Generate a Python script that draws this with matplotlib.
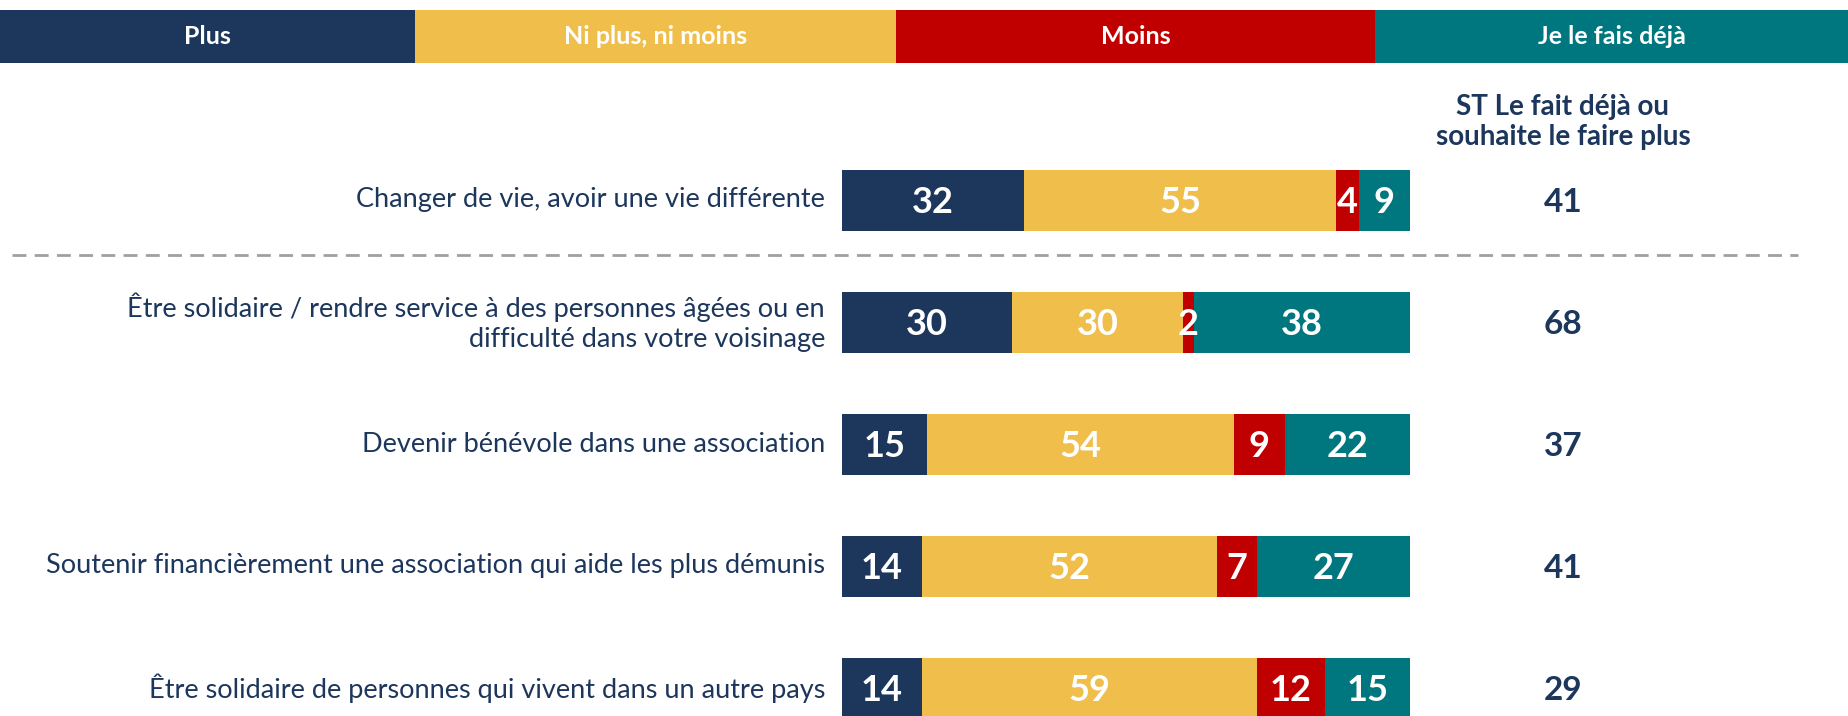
import matplotlib
matplotlib.use("Agg")
from matplotlib import pyplot as plt
import numpy as np

plt.rcParams['font.family'] = ['Lato', 'DejaVu Sans']

header_labels = ["Plus", "Ni plus, ni moins", "Moins", "Je le fais déjà"]
header_edges = [0, 415, 896, 1375, 1849]

items = [
    "Changer de vie, avoir une vie différente",
    "Être solidaire / rendre service à des personnes âgées ou en\ndifficulté dans votre voisinage",
    "Devenir bénévole dans une association",
    "Soutenir financièrement une association qui aide les plus démunis",
    "Être solidaire de personnes qui vivent dans un autre pays",
]
plus = [32, 30, 15, 14, 14]
ni_plus_ni_moins = [55, 30, 54, 52, 59]
moins = [4, 2, 9, 7, 12]
deja = [9, 38, 22, 27, 15]
st_total = [41, 68, 37, 41, 29]

colors = ["#1C365C", "#F0BE4A", "#C00000", "#00767E"]
navy = "#1C365C"

W, H = 1849, 716
fig = plt.figure(figsize=(W / 100, H / 100), dpi=100)

# overlay axes in pixel coordinates
ov = fig.add_axes([0, 0, 1, 1])
ov.set_xlim(0, W)
ov.set_ylim(H, 0)
ov.axis("off")

lefts = np.array(header_edges[:-1])
widths = np.diff(header_edges)
ov.barh(36.5, widths, left=lefts, height=53, color=colors, align="center")
for l, w, lab in zip(lefts, widths, header_labels):
    ov.text(l + w / 2, 37, lab, ha="center", va="center", color="white",
            fontsize=18, fontweight="bold")

ov.plot([12, 1798], [255, 255], ls=(0, (5, 3)), color="#A0A0A0", lw=2)

# bar axes
x0, x1 = 842, 1410
ax = fig.add_axes([x0 / W, 0, (x1 - x0) / W, 1])
row0, step = 200, 122
ax.set_xlim(0, 100)
ax.set_ylim((H - row0) / step, -row0 / step)
ax.axis("off")

y = np.arange(len(items))
data = [plus, ni_plus_ni_moins, moins, deja]
left = np.zeros(len(items))
for vals, c in zip(data, colors):
    vals = np.array(vals)
    ax.barh(y, vals, left=left, height=0.5, color=c, clip_on=False)
    for yi, v, l in zip(y, vals, left):
        ax.text(l + v / 2, yi + 0.02, str(v), ha="center", va="center",
                color="white", fontsize=26, fontweight="bold", clip_on=False)
    left = left + vals

px = 100 / (x1 - x0)
for yi, lab in zip(y, items):
    ax.text(-3.0, yi, lab, ha="right", va="center", color=navy, fontsize=19.5,
            linespacing=1.25, clip_on=False)
for yi, v in zip(y, st_total):
    ax.text((1563 - x0) * px, yi + 0.02, str(v), ha="center", va="center",
            color=navy, fontsize=24, fontweight="bold", clip_on=False)
ax.text((1563 - x0) * px, (122 - row0) / step, "ST Le fait déjà ou\nsouhaite le faire plus",
        ha="center", va="center", color=navy, fontsize=20, fontweight="bold",
        linespacing=1.2, clip_on=False)

fig.savefig("out.png", dpi=100)
